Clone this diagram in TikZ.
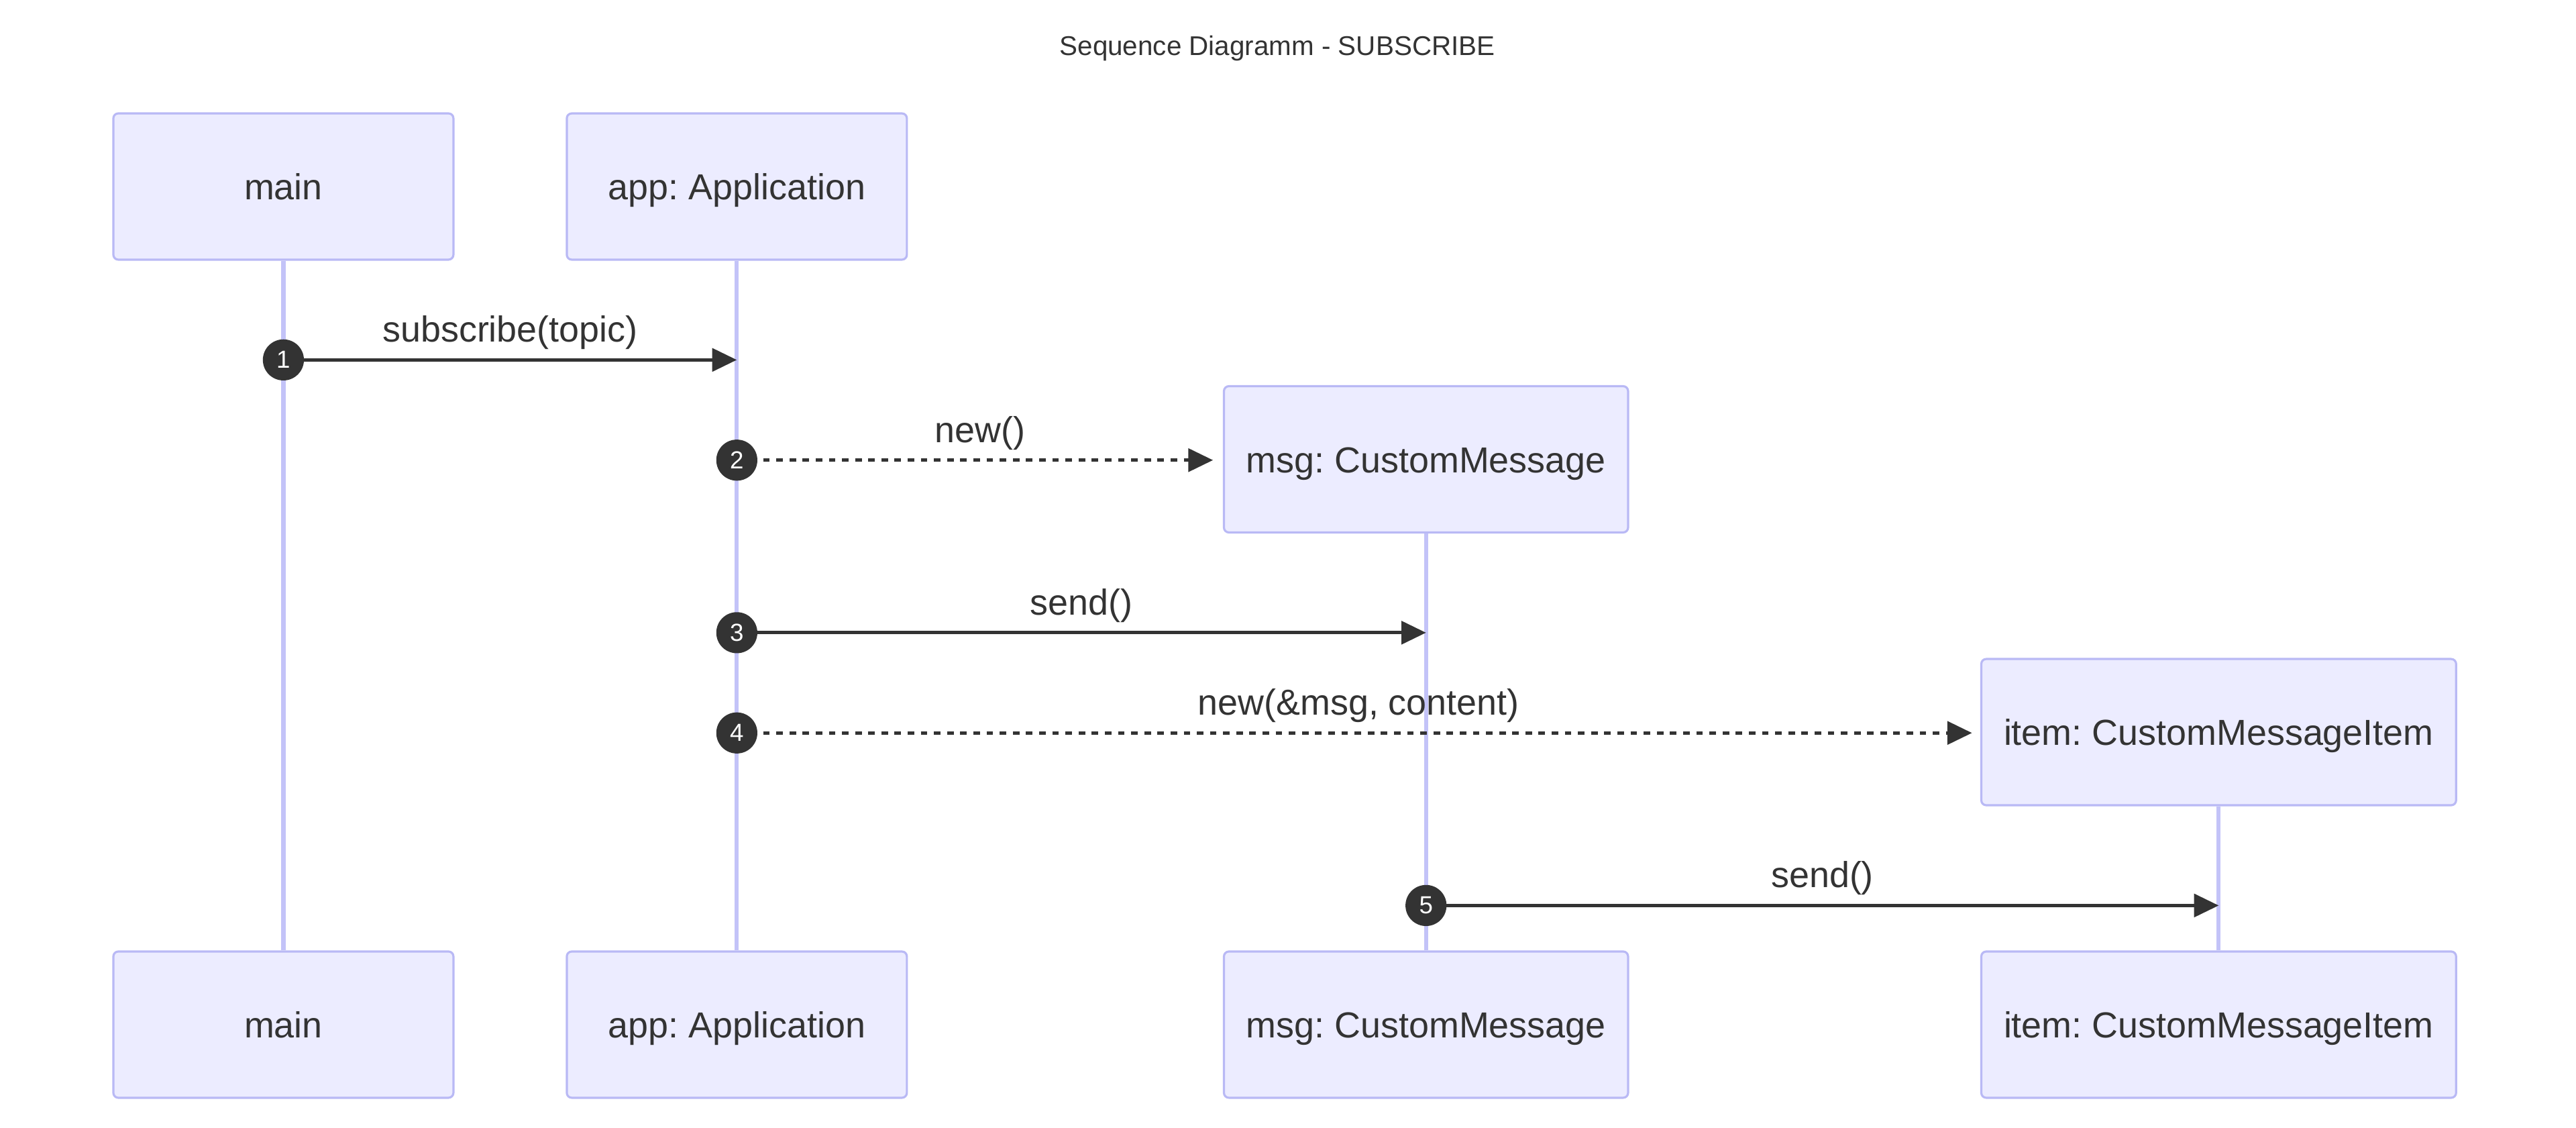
\documentclass[tikz,border=0pt]{standalone}
\usepackage{fontspec}
\setmainfont{Liberation Sans}
\usetikzlibrary{arrows.meta}
\definecolor{actorfill}{HTML}{ECECFF}
\definecolor{actorline}{HTML}{B9B9F5}
\definecolor{lifecol}{HTML}{C3C3F8}
\definecolor{ink}{HTML}{333333}
\frenchspacing

\begin{document}
\begin{tikzpicture}[x=1pt, y=-1pt,
	actor/.style={draw=actorline, fill=actorfill, line width=1.3pt, rounded corners=3pt, minimum height=89pt, inner sep=0pt, text height=16pt, text depth=0pt, text=ink, font=\fontsize{22}{26}\selectfont},
	lifeline/.style={draw=lifecol, line width=2.5pt},
	msg/.style={draw=ink, line width=2pt, -{Triangle[length=15pt,width=14pt]}},
	reply/.style={msg, dash pattern=on 4pt off 4pt},
	seqnum/.style={circle, fill=ink, text=white, minimum size=25pt, inner sep=0pt, font=\fontsize{15}{15}\selectfont},
	lbl/.style={midway, yshift=16.5pt, text=ink, font=\fontsize{22}{26}\selectfont}]
	\useasboundingbox (0,0) rectangle (1568,686);
	\node[text=ink, font=\fontsize{16.5}{20}\selectfont] (title) at (777.5,29.5) {Sequence Diagramm - SUBSCRIBE};
	\node[actor, minimum width=207pt] (mainT) at (172.5,113.5) {main};
	\node[actor, minimum width=207pt] (appT) at (448.5,113.5) {app: Application};
	\node[actor, minimum width=246pt] (msgT) at (868,279.5) {msg: CustomMessage};
	\node[actor, minimum width=289pt] (itemT) at (1350.5,445.5) {item: CustomMessageItem};
	\node[actor, minimum width=207pt] (mainB) at (172.5,623.5) {main};
	\node[actor, minimum width=207pt] (appB) at (448.5,623.5) {app: Application};
	\node[actor, minimum width=246pt] (msgB) at (868,623.5) {msg: CustomMessage};
	\node[actor, minimum width=289pt] (itemB) at (1350.5,623.5) {item: CustomMessageItem};
	\draw[lifeline] (mainT) -- (mainB);
	\draw[lifeline] (appT) -- (appB);
	\draw[lifeline] (msgT) -- (msgB);
	\draw[lifeline] (itemT) -- (itemB);
	\coordinate (m1s) at (mainT |- 0,219);
	\coordinate (m1e) at (appT |- 0,219);
	\coordinate (m2s) at (appT |- 0,280);
	\coordinate (m2e) at (msgT.west |- 0,280);
	\coordinate (m3s) at (appT |- 0,385);
	\coordinate (m3e) at (msgT |- 0,385);
	\coordinate (m4s) at (appT |- 0,446);
	\coordinate (m4e) at (itemT.west |- 0,446);
	\coordinate (m5s) at (msgT |- 0,551);
	\coordinate (m5e) at (itemT |- 0,551);
	\draw[msg] (m1s) -- node[lbl] {subscribe(topic)} (m1e);
	\draw[reply, shorten >=6pt] (m2s) -- node[lbl] {new()} (m2e);
	\draw[msg] (m3s) -- node[lbl] {send()} (m3e);
	\draw[reply, shorten >=5pt] (m4s) -- node[lbl] {new(\&msg, content)} (m4e);
	\draw[msg] (m5s) -- node[lbl] {send()} (m5e);
	\node[seqnum] (n1) at (m1s) {1};
	\node[seqnum] (n2) at (m2s) {2};
	\node[seqnum] (n3) at (m3s) {3};
	\node[seqnum] (n4) at (m4s) {4};
	\node[seqnum] (n5) at (m5s) {5};
\end{tikzpicture}
\end{document}
